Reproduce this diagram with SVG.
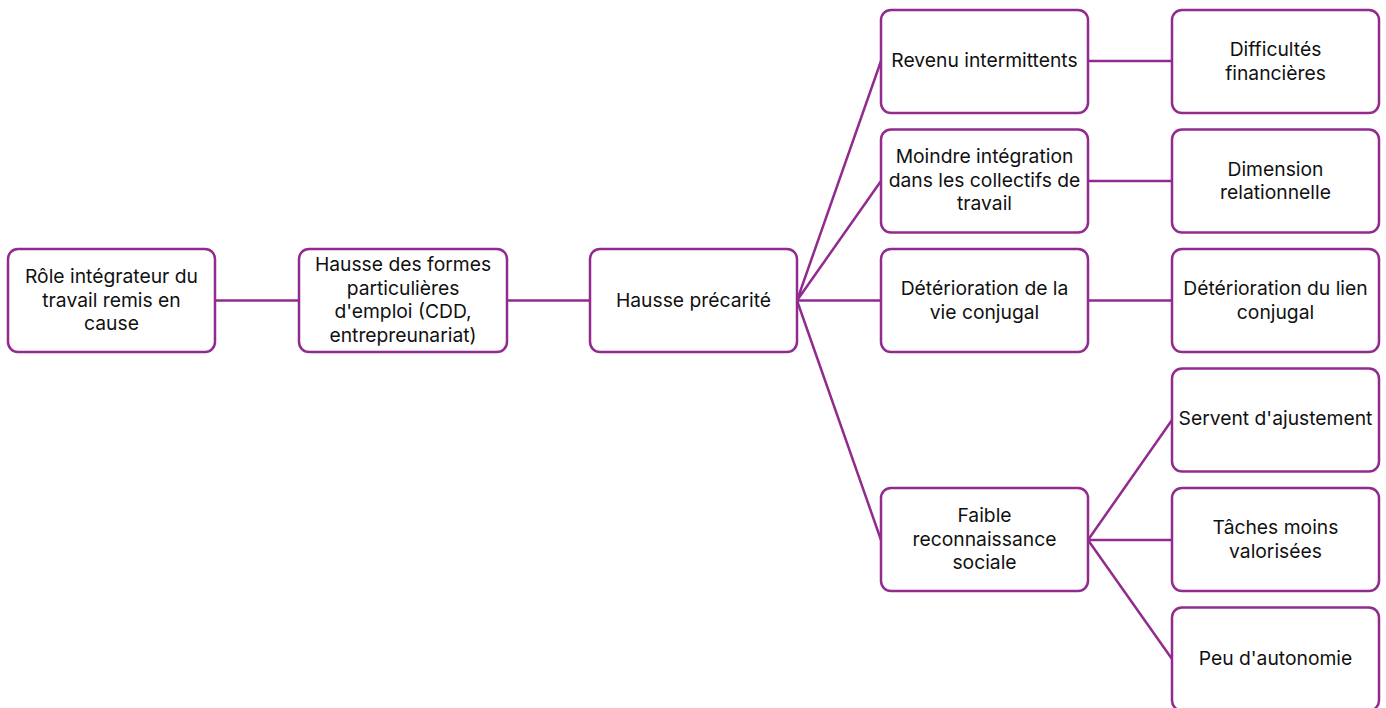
<svg xmlns="http://www.w3.org/2000/svg" width="1386" height="708" viewBox="0 0 1386 708">
<style>
.box{fill:#fff;stroke:#912B8E;stroke-width:2.5}
.c{fill:none;stroke:#912B8E;stroke-width:2.5}
text{font-family:Inter,"Open Sans","Liberation Sans",sans-serif;font-size:19.3px;fill:#111;text-anchor:middle}
</style>
<rect width="1386" height="708" fill="#fff"/>
<g id="connectors">
<path class="c" d="M215,300.5H299M507,300.5H590"/>
<path class="c" d="M797,300.5L881,61M797,300.5L881,181M797,300.5H881M797,300.5L881,540"/>
<path class="c" d="M1088,61H1172M1088,181H1172M1088,300.5H1172"/>
<path class="c" d="M1088,540L1172,420M1088,540H1172M1088,540L1172,659"/>
</g>
<g id="n1"><rect class="box" x="8" y="249" width="207" height="103" rx="10"/><text x="111.5" y="283">Rôle intégrateur du</text><text x="111.5" y="306.5">travail remis en</text><text x="111.5" y="330">cause</text></g>
<g id="n2"><rect class="box" x="299" y="249" width="208" height="103" rx="10"/><text x="403" y="271">Hausse des formes</text><text x="403" y="294.5">particulières</text><text x="403" y="318">d'emploi (CDD,</text><text x="403" y="341.5">entrepreunariat)</text></g>
<g id="n3"><rect class="box" x="590" y="249" width="207" height="103" rx="10"/><text x="693.5" y="307">Hausse précarité</text></g>
<g id="n4"><rect class="box" x="881" y="10" width="207" height="103" rx="10"/><text x="984.5" y="67">Revenu intermittents</text></g>
<g id="n5"><rect class="box" x="881" y="129.5" width="207" height="103" rx="10"/><text x="984.5" y="163">Moindre intégration</text><text x="984.5" y="186.5">dans les collectifs de</text><text x="984.5" y="210">travail</text></g>
<g id="n6"><rect class="box" x="881" y="249" width="207" height="103" rx="10"/><text x="984.5" y="295">Détérioration de la</text><text x="984.5" y="318.5">vie conjugal</text></g>
<g id="n7"><rect class="box" x="881" y="488" width="207" height="103" rx="10"/><text x="984.5" y="522">Faible</text><text x="984.5" y="545.5">reconnaissance</text><text x="984.5" y="569">sociale</text></g>
<g id="n8"><rect class="box" x="1172" y="10" width="207" height="103" rx="10"/><text x="1275.5" y="56">Difficultés</text><text x="1275.5" y="79.5">financières</text></g>
<g id="n9"><rect class="box" x="1172" y="129.5" width="207" height="103" rx="10"/><text x="1275.5" y="175.5">Dimension</text><text x="1275.5" y="199">relationnelle</text></g>
<g id="n10"><rect class="box" x="1172" y="249" width="207" height="103" rx="10"/><text x="1275.5" y="295">Détérioration du lien</text><text x="1275.5" y="318.5">conjugal</text></g>
<g id="n11"><rect class="box" x="1172" y="368.5" width="207" height="103" rx="10"/><text x="1275.5" y="425">Servent d'ajustement</text></g>
<g id="n12"><rect class="box" x="1172" y="488" width="207" height="103" rx="10"/><text x="1275.5" y="534">Tâches moins</text><text x="1275.5" y="557.5">valorisées</text></g>
<g id="n13"><rect class="box" x="1172" y="607.5" width="207" height="103" rx="10"/><text x="1275.5" y="665">Peu d'autonomie</text></g>
</svg>
